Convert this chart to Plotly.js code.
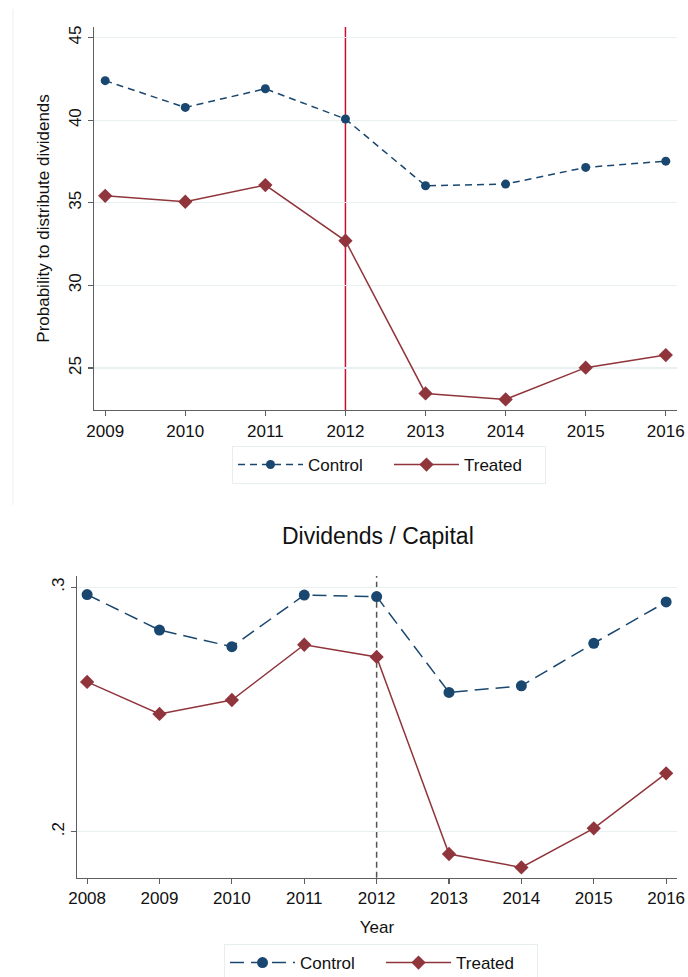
<!DOCTYPE html>
<html>
<head>
<meta charset="utf-8">
<script src="https://cdn.plot.ly/plotly-3.0.1.min.js"></script>
<style>
  html, body { margin: 0; padding: 0; background: #ffffff; }
  #chart { width: 688px; height: 977px; }
</style>
</head>
<body>
<div id="chart"></div>
<script>
// Panel A: probability of distributing dividends, by year
const yearsA = [2009, 2010, 2011, 2012, 2013, 2014, 2015, 2016];
const controlA = [42.39, 40.77, 41.90, 40.07, 36.03, 36.13, 37.14, 37.52];
const treatedA = [35.42, 35.06, 36.07, 32.70, 23.46, 23.10, 25.02, 25.78];
const yTicksA = [25, 30, 35, 40, 45];

// Panel B: dividends over capital, by year
const yearsB = [2008, 2009, 2010, 2011, 2012, 2013, 2014, 2015, 2016];
const controlB = [0.2970, 0.2825, 0.2757, 0.2968, 0.2962, 0.2570, 0.2597, 0.2771, 0.2940];
const treatedB = [0.2613, 0.2482, 0.2539, 0.2765, 0.2715, 0.1909, 0.1854, 0.2014, 0.2239];
const yTicksB = [0.2, 0.3];
const yTickTextB = ['.2', '.3'];

// Reform year marked by a vertical line in both panels
const eventYear = 2012;

const NAVY = '#1a476f';
const MAROON = '#90353b';
const FONT = 'Liberation Sans, Arial, sans-serif';
const AXIS_COLOR = '#5f5f5f';
const GRID_COLOR = '#e9f0f2';
const TEXT = '#111111';

const traces = [
  {
    x: yearsA, y: controlA, name: 'Control', xaxis: 'x', yaxis: 'y', legend: 'legend',
    mode: 'lines+markers', type: 'scatter',
    line: { color: NAVY, width: 1.5, dash: '7px,5px' },
    marker: { color: NAVY, symbol: 'circle', size: 9 }
  },
  {
    x: yearsA, y: treatedA, name: 'Treated', xaxis: 'x', yaxis: 'y', legend: 'legend',
    mode: 'lines+markers', type: 'scatter',
    line: { color: MAROON, width: 1.5 },
    marker: { color: MAROON, symbol: 'diamond', size: 11 }
  },
  {
    x: yearsB, y: controlB, name: 'Control', xaxis: 'x2', yaxis: 'y2', legend: 'legend2',
    mode: 'lines+markers', type: 'scatter',
    line: { color: NAVY, width: 1.5, dash: '14px,7px' },
    marker: { color: NAVY, symbol: 'circle', size: 11 }
  },
  {
    x: yearsB, y: treatedB, name: 'Treated', xaxis: 'x2', yaxis: 'y2', legend: 'legend2',
    mode: 'lines+markers', type: 'scatter',
    line: { color: MAROON, width: 1.5 },
    marker: { color: MAROON, symbol: 'diamond', size: 11 }
  }
];

const xAxisBase = {
  showline: true, linecolor: AXIS_COLOR, linewidth: 1.3,
  ticks: 'outside', ticklen: 5, tickcolor: AXIS_COLOR, tickwidth: 1.2,
  showgrid: false, zeroline: false, dtick: 1,
  tickfont: { family: FONT, size: 17, color: TEXT }
};
const yAxisBase = {
  showline: true, linecolor: AXIS_COLOR, linewidth: 1.3,
  ticks: 'outside', ticklen: 5, tickcolor: AXIS_COLOR, tickwidth: 1.2,
  showgrid: true, gridcolor: GRID_COLOR, gridwidth: 1.2, zeroline: false,
  tickangle: -90,
  tickfont: { family: FONT, size: 17, color: TEXT }
};

const legendBase = {
  orientation: 'h', xanchor: 'left', yanchor: 'top',
  bordercolor: '#e6eef0', borderwidth: 1, bgcolor: '#ffffff',
  entrywidth: 76, itemwidth: 65,
  font: { family: FONT, size: 17, color: TEXT }
};

const layout = {
  width: 688, height: 977,
  margin: { l: 0, r: 0, t: 0, b: 0, autoexpand: false },
  paper_bgcolor: '#ffffff', plot_bgcolor: '#ffffff',
  font: { family: FONT, color: TEXT },
  showlegend: true,
  xaxis: Object.assign({}, xAxisBase, {
    domain: [0.1366, 0.9840], anchor: 'y', range: [2008.86, 2016.14]
  }),
  yaxis: Object.assign({}, yAxisBase, {
    domain: [0.5804, 0.9724], anchor: 'x', range: [22.46, 45.64],
    tickvals: yTicksA,
    title: { text: 'Probability to distribute dividends', font: { family: FONT, size: 17, color: TEXT }, standoff: 12 }
  }),
  xaxis2: Object.assign({}, xAxisBase, {
    domain: [0.1119, 0.9840], anchor: 'y2', range: [2007.86, 2016.15],
    title: { text: 'Year', font: { family: FONT, size: 17, color: TEXT }, standoff: 13 }
  }),
  yaxis2: Object.assign({}, yAxisBase, {
    domain: [0.1016, 0.4104], anchor: 'x2', range: [0.1812, 0.3046],
    tickvals: yTicksB, ticktext: yTickTextB
  }),
  legend: Object.assign({}, legendBase, { x: 0.3372, y: 0.5435 }),
  legend2: Object.assign({}, legendBase, { x: 0.3256, y: 0.0338 }),
  annotations: [
    {
      text: 'Dividends / Capital', xref: 'paper', yref: 'paper',
      x: 0.5494, y: 1 - 536 / 977, xanchor: 'center', yanchor: 'middle',
      showarrow: false, font: { family: FONT, size: 23, color: TEXT }
    }
  ],
  shapes: [
    {
      type: 'line', xref: 'x', yref: 'y domain', x0: eventYear, x1: eventYear, y0: 0, y1: 1,
      line: { color: '#c8102e', width: 1.5 }, layer: 'below'
    },
    {
      type: 'line', xref: 'x2', yref: 'y2 domain', x0: eventYear, x1: eventYear, y0: 0, y1: 1,
      line: { color: '#555555', width: 1.5, dash: '6px,4px' }, layer: 'below'
    },
    {
      // faint frame edge to the left of the upper panel
      type: 'line', xref: 'paper', yref: 'paper', x0: 13 / 688, x1: 13 / 688,
      y0: 1 - 9 / 977, y1: 1 - 505 / 977,
      line: { color: '#eef2f4', width: 1.2 }
    }
  ]
};

Plotly.newPlot('chart', traces, layout, { displayModeBar: false, staticPlot: true });
</script>
</body>
</html>
